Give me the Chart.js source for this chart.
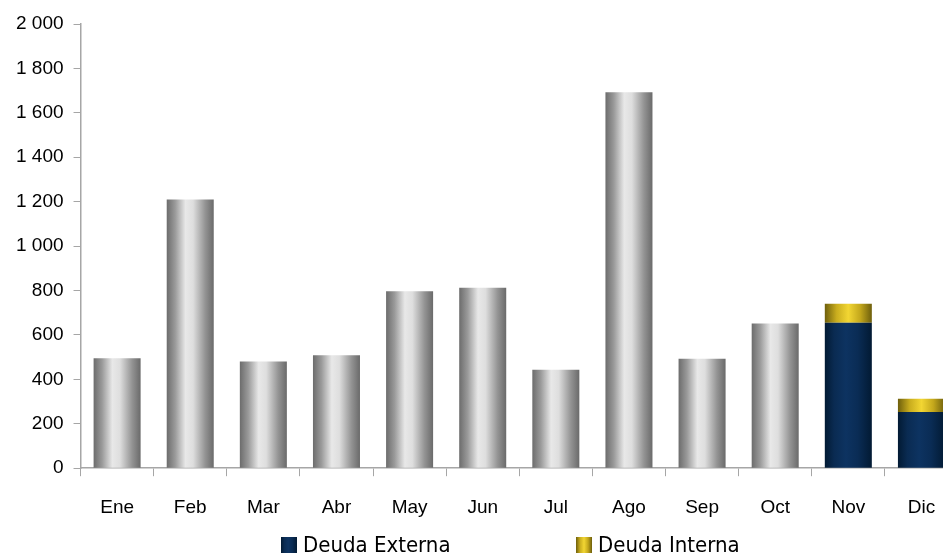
<!DOCTYPE html>
<html>
<head>
<meta charset="utf-8">
<script src="https://cdn.jsdelivr.net/npm/chart.js@4.4.1/dist/chart.umd.min.js"></script>
<style>
  html, body { margin: 0; padding: 0; background: #fff; overflow: hidden; }
  #wrap { position: relative; width: 943px; height: 555px; overflow: hidden; }
  #chart_deuda { position: absolute; left: 0; top: 0; }
  #legend { position: absolute; left: 0; top: 534px; width: 943px; font-family: "DejaVu Sans Condensed", "DejaVu Sans", sans-serif; font-size: 22px; line-height: 22px; color: #000; }
  .item { position: absolute; top: 0; white-space: nowrap; padding-left: 22px; }
  .box { position: absolute; left: 0; top: 3px; width: 16px; height: 16px; }
</style>
</head>
<body>
<div id="wrap">
  <!-- plot runs past the right edge, as in the source image -->
  <canvas id="chart_deuda" width="958" height="555"></canvas>
  <div id="legend"></div>
</div>
<script>
var months = ['Ene', 'Feb', 'Mar', 'Abr', 'May', 'Jun', 'Jul', 'Ago', 'Sep', 'Oct', 'Nov', 'Dic'];
var totalValues = [495, 1210, 480, 508, 797, 813, 443, 1693, 493, 652, null, null];
var externaValues = [null, null, null, null, null, null, null, null, null, null, 655, 253];
var internaValues = [null, null, null, null, null, null, null, null, null, null, 85, 60];

// horizontal "cylinder" shading for each series
var shades = {
    gray: [[0, '#6c6c6c'], [0.18, '#9a9a9a'], [0.4, '#e8e8e8'], [0.56, '#dedede'], [0.82, '#939393'], [1, '#6a6a6a']],
    navy: [[0, '#021a33'], [0.2, '#0a2b52'], [0.45, '#0d3361'], [0.7, '#0a2c55'], [1, '#021a33']],
    gold: [[0, '#6e5f0c'], [0.25, '#c9ad1e'], [0.5, '#f2d633'], [0.75, '#c4a81c'], [1, '#6e5f0c']]
};

var barPct = 0.643;

// scriptable fill: one gradient per bar, built from the x scale
function shadeFill(name) {
    return function(context) {
        var chart = context.chart;
        var xs = chart.scales.x;
        if (!chart.chartArea || !xs || context.dataIndex === undefined) {
            return shades[name][2][1];
        }
        var cx = xs.getPixelForValue(context.dataIndex);
        var half = (xs.width / months.length) * barPct / 2;
        var g = chart.ctx.createLinearGradient(cx - half, 0, cx + half, 0);
        shades[name].forEach(function(s) { g.addColorStop(s[0], s[1]); });
        return g;
    };
}

function spaced(v) {
    return String(v).replace(/\B(?=(\d{3})+(?!\d))/g, ' ');
}

var tickFont = { family: '"Liberation Sans", Arial, sans-serif', size: 19 };

var chart_deuda = new Chart(document.getElementById('chart_deuda'), {
    type: 'bar',
    data: {
        labels: months,
        datasets: [
            { label: 'Total', data: totalValues, backgroundColor: shadeFill('gray') },
            { label: 'Deuda Externa', data: externaValues, backgroundColor: shadeFill('navy') },
            { label: 'Deuda Interna', data: internaValues, backgroundColor: shadeFill('gold') }
        ]
    },
    options: {
        animation: false,
        responsive: false,
        datasets: {
            bar: { categoryPercentage: 1, barPercentage: barPct, borderWidth: 0 }
        },
        layout: { padding: { top: 24, right: 0, bottom: 16, left: 6 } },
        plugins: {
            legend: { display: false },
            tooltip: { enabled: false }
        },
        scales: {
            x: {
                stacked: true,
                grid: { drawOnChartArea: false, tickLength: 8, color: '#a6a6a6', offset: true },
                border: { color: '#a6a6a6', width: 1.5 },
                ticks: { color: '#000', font: tickFont, padding: 20, maxRotation: 0 }
            },
            y: {
                stacked: true,
                min: 0,
                max: 2000,
                grid: { drawOnChartArea: false, tickLength: 7, color: '#a6a6a6' },
                border: { color: '#a6a6a6', width: 1.5 },
                ticks: {
                    stepSize: 200,
                    color: '#000',
                    font: tickFont,
                    padding: 10,
                    callback: function(value) { return spaced(value); }
                }
            }
        }
    }
});

// legend with only the two debt series
var legendItems = [
    { text: 'Deuda Externa', shade: 'navy', left: 281 },
    { text: 'Deuda Interna', shade: 'gold', left: 576 }
];
var legendEl = document.getElementById('legend');
legendItems.forEach(function(it) {
    var stops = shades[it.shade].map(function(s) { return s[1] + ' ' + (s[0] * 100) + '%'; }).join(', ');
    var div = document.createElement('div');
    div.className = 'item';
    div.style.left = it.left + 'px';
    div.innerHTML = '<span class="box" style="background: linear-gradient(to right, ' + stops + ')"></span>' + it.text;
    legendEl.appendChild(div);
});
</script>
</body>
</html>
